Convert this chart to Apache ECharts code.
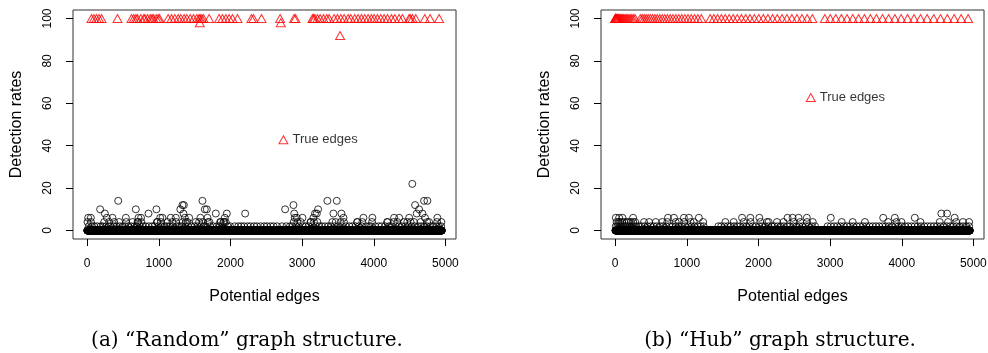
<!DOCTYPE html>
<html><head><meta charset="utf-8">
<script src="https://cdn.jsdelivr.net/npm/echarts@6/dist/echarts.min.js"></script>
<style>html,body{margin:0;padding:0;background:#fff}#c{width:988px;height:353px}</style>
</head><body><div id="c"></div>
<script>
// ---------------- data ----------------
const edgeCount = 4950; // potential edges are numbered 1..4950; every unlisted edge has rate 0
const xTicks = [0, 1000, 2000, 3000, 4000, 5000];
const yTicks = [0, 20, 40, 60, 80, 100];
const xTitle = 'Potential edges';
const yTitle = 'Detection rates';
const trueLabel = 'True edges';
const captions = ['(a) \u201cRandom\u201d graph structure.', '(b) \u201cHub\u201d graph structure.'];

// (a) Random: true edges [edge, rate]
const randomTrue = [[60,100],[95,100],[130,100],[165,100],[200,100],[423,100],[619,100],[650,100],[680,100],[702,100],[749,100],[790,100],[805,100],[842,100],[879,100],[905,100],[926,100],[963,100],[990,100],[1009,100],[1130,100],[1177,100],[1223,100],[1270,100],[1307,100],[1353,100],[1391,100],[1437,100],[1484,100],[1530,100],[1560,100],[1577,100],[1600,100],[1623,100],[1702,100],[1842,100],[1888,100],[1935,100],[1981,100],[2028,100],[2098,100],[2293,100],[2321,100],[2433,100],[2693,100],[2888,100],[2907,100],[3144,100],[3160,100],[3177,100],[3214,100],[3251,100],[3298,100],[3344,100],[3377,100],[3447,100],[3493,100],[3540,100],[3586,100],[3642,100],[3679,100],[3735,100],[3781,100],[3828,100],[3874,100],[3921,100],[3967,100],[4005,100],[4051,100],[4098,100],[4144,100],[4191,100],[4247,100],[4293,100],[4353,100],[4400,100],[4493,100],[4510,100],[4540,100],[4586,100],[4712,100],[4786,100],[4912,100],[1572,98],[2702,98],[3530,92]];
// (a) Random: false edges with rate above 2 [edge, rate]
const randomFalse = [[14,6],[51,6],[181,10],[247,8],[274,6],[353,6],[433,14],[540,6],[679,10],[710,4],[716,6],[752,6],[856,8],[966,10],[972,4],[1019,6],[1051,6],[1167,6],[1237,6],[1300,10],[1330,12],[1350,12],[1344,8],[1362,6],[1423,6],[1580,6],[1609,14],[1642,10],[1670,10],[1679,6],[1706,4],[1795,8],[1856,4],[1902,4],[1921,6],[1949,8],[2205,8],[2763,10],[2879,12],[2890,8],[2898,6],[2926,6],[3005,6],[3121,4],[3158,6],[3180,8],[3205,8],[3223,10],[3353,14],[3437,8],[3484,14],[3549,8],[3577,6],[3772,4],[3856,6],[3981,6],[4195,4],[4284,6],[4355,6],[4495,6],[4538,22],[4577,12],[4600,8],[4633,10],[4679,8],[4702,14],[4749,14],[4715,6],[4772,4],[4888,6],[4944,4],
  [5,4],[52,4],[237,4],[307,4],[377,4],[446,4],[545,4],[633,4],[703,4],[755,4],[982,4],[1028,4],[1121,4],[1191,4],[1240,4],[1335,4],[1377,4],[1400,4],[1516,4],[1562,4],[1612,4],[1684,4],[1865,4],[1912,4],[1934,4],[2884,4],[2934,4],[2980,4],[3118,4],[3166,4],[3213,4],[3422,4],[3469,4],[3538,4],[3584,4],[3768,4],[3841,4],[3976,4],[4186,4],[4279,4],[4329,4],[4421,4],[4468,4],[4514,4],[4561,4],[4654,4],[4745,4],[4884,4]];
// (a) Random: false edges with rate 2
const randomFalse2 = [22,68,98,140,188,215,262,298,330,372,410,455,498,530,575,612,660,690,735,780,815,860,908,940,995,1035,1080,1110,1150,1195,1250,1285,1320,1370,1410,1455,1500,1540,1590,1630,1655,1715,1760,1810,1840,1885,1960,1995,2060,2110,2150,2190,2240,2280,2330,2370,2420,2470,2510,2560,2600,2650,2720,2780,2830,2860,2915,2955,3010,3050,3090,3140,3190,3240,3275,3320,3365,3400,3450,3500,3560,3610,3660,3700,3745,3790,3835,3890,3935,3960,4020,4070,4110,4160,4210,4240,4305,4350,4390,4440,4480,4530,4570,4620,4660,4700,4740,4790,4830,4870,4910,4940];
const randomLabelPoint = [2739, 42.8];

// (b) Hub: true edges [edge, rate]
const hubTrue = [[1,100],[2,100],[4,100],[7,100],[11,100],[16,100],[22,100],[29,100],[37,100],[46,100],[56,100],[67,100],[79,100],[92,100],[106,100],[121,100],[137,100],[154,100],[172,100],[191,100],[211,100],[232,100],[254,100],[277,100],
  [351,100],[377,100],[404,100],[432,100],[461,100],[491,100],[522,100],[554,100],[587,100],[621,100],[656,100],[692,100],[729,100],[767,100],[806,100],[846,100],[887,100],[929,100],[972,100],[1016,100],[1061,100],[1107,100],[1154,100],[1202,100],
  [1326,100],[1377,100],[1429,100],[1482,100],[1536,100],[1591,100],[1647,100],[1704,100],[1762,100],[1821,100],[1881,100],[1942,100],[2004,100],[2067,100],[2131,100],[2196,100],[2262,100],[2329,100],[2397,100],[2466,100],[2536,100],[2607,100],[2679,100],[2752,100],
  [2926,100],[3002,100],[3079,100],[3157,100],[3236,100],[3316,100],[3397,100],[3479,100],[3562,100],[3646,100],[3731,100],[3817,100],[3904,100],[3992,100],[4081,100],[4171,100],[4262,100],[4354,100],[4447,100],[4541,100],[4636,100],[4732,100],[4829,100],[4927,100]];
// (b) Hub: false edges with rate above 2
const hubFalse = [[9,6],[55,6],[102,6],[250,6],[737,6],[820,6],[959,6],[1029,6],[1168,6],[1771,6],[1887,6],[2012,6],[2406,6],[2476,6],[2559,6],[2675,6],[3009,6],[3741,6],[3903,6],[4182,6],[4738,6],[4553,8],[4632,8],
  [20,4],[45,4],[70,4],[95,4],[130,4],[160,4],[190,4],[220,4],[252,4],[280,4],[403,4],[473,4],[566,4],[658,4],[728,4],[844,4],[890,4],[962,4],[1052,4],[1098,4],[1228,4],[1538,4],[1654,4],[1793,4],[1890,4],[2026,4],[2118,4],[2142,4],[2258,4],[2350,4],[2490,4],[2582,4],[2678,4],[2758,4],[3162,4],[3315,4],[3486,4],[3811,4],[3927,4],[3996,4],[4261,4],[4530,4],[4646,4],[4760,4],[4854,4],[4940,4]];
// (b) Hub: false edges with rate 2
const hubFalse2 = [8,30,57,80,112,140,168,200,233,262,295,330,370,412,450,495,538,580,626,668,710,755,800,845,885,930,975,1020,1066,1110,1150,1195,1235,1440,1480,1525,1570,1615,1660,1700,1745,1790,1830,1875,1920,1965,2010,2050,2095,2140,2185,2225,2270,2310,2355,2400,2440,2485,2530,2570,2615,2660,2700,2745,2790,2965,3010,3055,3100,3145,3190,3235,3280,3325,3370,3415,3460,3505,3550,3595,3640,3685,3730,3775,3820,3865,3910,3955,4000,4045,4090,4135,4180,4225,4270,4315,4360,4405,4450,4495,4540,4585,4630,4675,4720,4765,4810,4855,4900,4940];
const hubLabelPoint = [2730, 62.7];

// ---------------- build ----------------
function falsePoints(nonzero, rate2, truePts) {
  const used = new Set(truePts.map(p => p[0]));
  nonzero.forEach(p => used.add(p[0]));
  rate2.forEach(x => used.add(x));
  const pts = [];
  for (let i = 1; i <= edgeCount; i++) if (!used.has(i)) pts.push([i, 0]);
  rate2.forEach(x => pts.push([x, 2]));
  nonzero.forEach(p => pts.push(p));
  return pts;
}

const sans = "'Liberation Sans', Arial, sans-serif";
const xMin = -198, xMax = 5148, yMin = -4, yMax = 104;
const plain = v => String(v);

function xAxis(i) {
  return {
    gridIndex: i, type: 'value', min: xMin, max: xMax,
    splitLine: { show: false },
    axisLine: { show: false, onZero: false },
    axisTick: { show: true, customValues: xTicks, length: 7, lineStyle: { color: '#000', width: 1 } },
    axisLabel: { customValues: xTicks, formatter: plain, color: '#000', fontSize: 12, fontFamily: sans, margin: 19 },
    name: xTitle, nameLocation: 'middle', nameGap: 50,
    nameTextStyle: { color: '#000', fontSize: 16, fontFamily: sans }
  };
}
function yAxis(i) {
  return {
    gridIndex: i, type: 'value', min: yMin, max: yMax,
    splitLine: { show: false },
    axisLine: { show: false, onZero: false },
    axisTick: { show: true, customValues: yTicks, length: 7, lineStyle: { color: '#000', width: 1 } },
    axisLabel: { customValues: yTicks, formatter: plain, rotate: 90, color: '#000', fontSize: 12, fontFamily: sans, margin: 19 },
    name: yTitle, nameLocation: 'middle', nameGap: 48, nameRotate: 90,
    nameTextStyle: { color: '#000', fontSize: 16, fontFamily: sans }
  };
}
function falseSeries(i, data) {
  return {
    type: 'scatter', xAxisIndex: i, yAxisIndex: i, data: data, symbol: 'circle', symbolSize: 7,
    itemStyle: { color: 'rgba(0,0,0,0)', borderColor: '#000', borderWidth: 1 },
    silent: true, animation: false
  };
}
function trueSeries(i, data) {
  return {
    type: 'scatter', xAxisIndex: i, yAxisIndex: i, data: data, symbol: 'triangle', symbolSize: [9, 8],
    itemStyle: { color: 'rgba(0,0,0,0)', borderColor: '#ff0000', borderWidth: 1 },
    silent: true, animation: false
  };
}
function labelSeries(i, pt) {
  return {
    type: 'scatter', xAxisIndex: i, yAxisIndex: i, data: [pt], symbol: 'triangle', symbolSize: [9, 8],
    itemStyle: { color: 'rgba(0,0,0,0)', borderColor: '#ff0000', borderWidth: 1 },
    label: { show: true, position: 'right', distance: 4, formatter: trueLabel, color: '#000', fontSize: 13, fontFamily: sans },
    silent: true, animation: false
  };
}

const gridBase = { top: 10, width: 383, height: 229, show: true, borderColor: '#333', borderWidth: 1, outerBoundsMode: 'none' };

const chart = echarts.init(document.getElementById('c'), null, { renderer: 'canvas' });
chart.setOption({
  animation: false,
  backgroundColor: '#fff',
  grid: [Object.assign({ left: 73 }, gridBase), Object.assign({ left: 601 }, gridBase)],
  xAxis: [xAxis(0), xAxis(1)],
  yAxis: [yAxis(0), yAxis(1)],
  series: [
    falseSeries(0, falsePoints(randomFalse, randomFalse2, randomTrue)),
    trueSeries(0, randomTrue),
    labelSeries(0, randomLabelPoint),
    falseSeries(1, falsePoints(hubFalse, hubFalse2, hubTrue)),
    trueSeries(1, hubTrue),
    labelSeries(1, hubLabelPoint)
  ],
  graphic: [
    { type: 'text', style: { text: captions[0], x: 247, y: 341, align: 'center', verticalAlign: 'middle', fill: '#000', font: "20px 'DejaVu Serif', serif" } },
    { type: 'text', style: { text: captions[1], x: 780, y: 341, align: 'center', verticalAlign: 'middle', fill: '#000', font: "20px 'DejaVu Serif', serif" } }
  ]
});
</script></body></html>
